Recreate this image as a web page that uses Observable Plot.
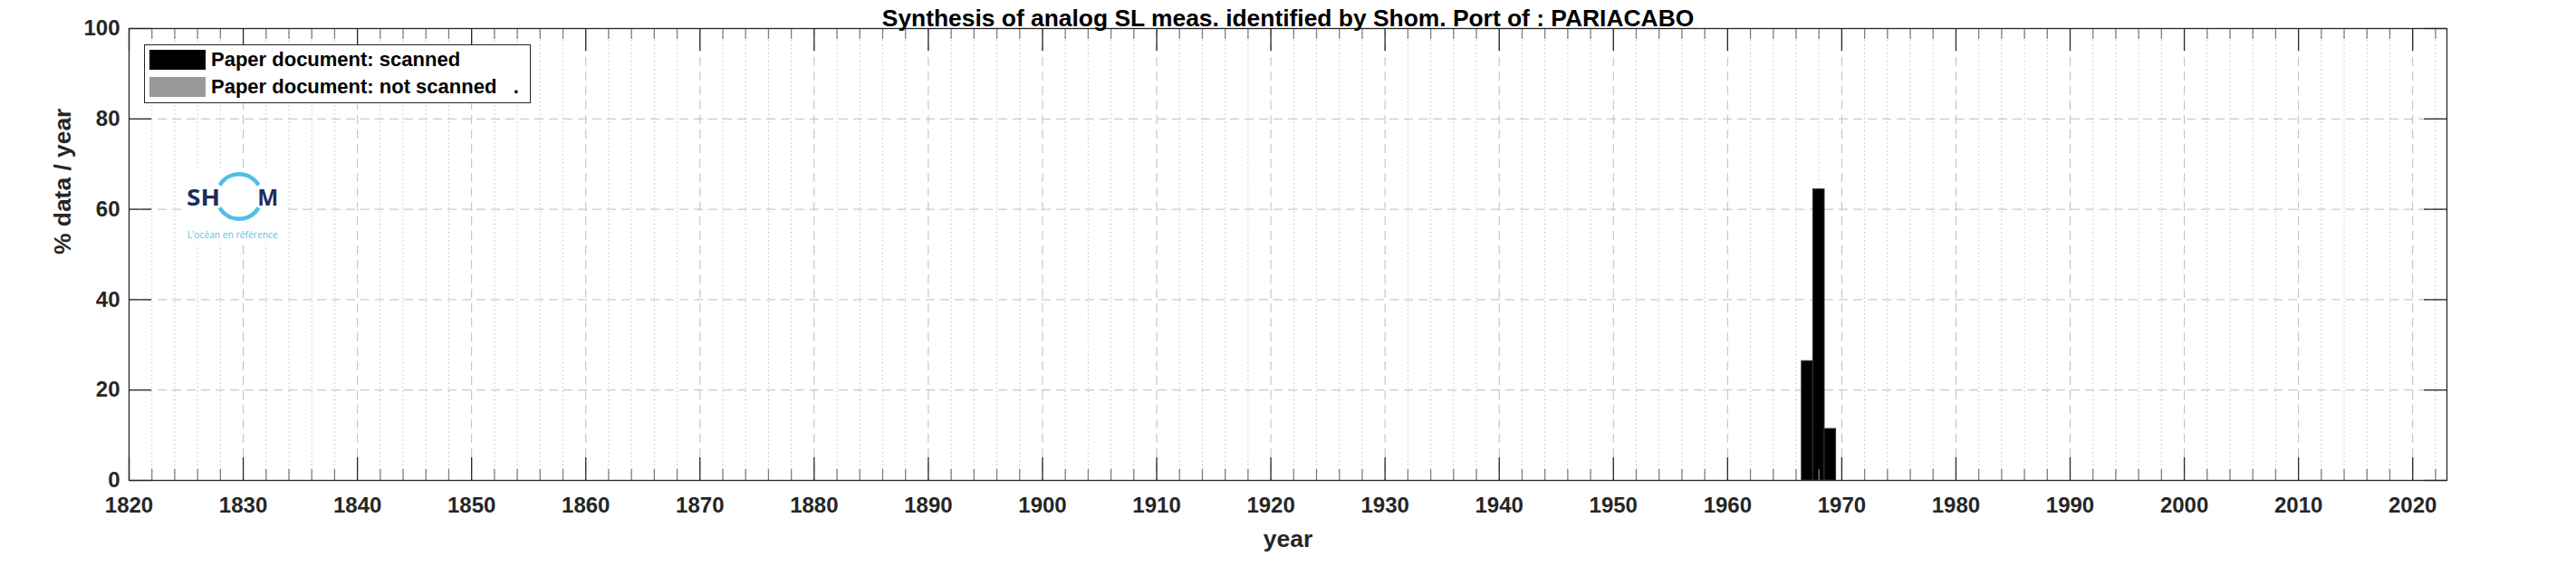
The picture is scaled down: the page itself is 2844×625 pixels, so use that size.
<!DOCTYPE html>
<html>
<head>
<meta charset="utf-8">
<script src="https://cdn.jsdelivr.net/npm/d3@7"></script>
<script src="https://cdn.jsdelivr.net/npm/@observablehq/plot@0.6"></script>
<style>
  html, body { margin: 0; padding: 0; background: #fff; }
  #wrap { position: relative; width: 2844px; height: 625px; overflow: hidden; }
  #legend { position: absolute; left: 159px; top: 49px; width: 427px; height: 65px;
            border: 1.5px solid #262626; background: #fff; box-sizing: border-box;
            font-family: 'Liberation Sans', Arial, Helvetica, sans-serif; font-weight: bold; font-size: 22px; color: #000; }
  .lrow { position: absolute; left: 5px; height: 22px; display: flex; align-items: center; }
  .lsw { width: 62px; height: 22px; margin-right: 6px; }
  .ltx { white-space: pre; line-height: 22px; }
  #logo { position: absolute; left: 200px; top: 188px; }
</style>
</head>
<body>
<div id="wrap"></div>
<script>
// ---- data ----
const title = "Synthesis of analog SL meas. identified by Shom. Port of : PARIACABO";
const years = [1967, 1968, 1969];
const scanned = [26.4, 64.4, 11.4];
const notScanned = [0, 0, 0];
const xTicks = [1820, 1830, 1840, 1850, 1860, 1870, 1880, 1890, 1900, 1910, 1920, 1930, 1940, 1950, 1960, 1970, 1980, 1990, 2000, 2010, 2020];
const yTicks = [0, 20, 40, 60, 80, 100];
const legendLabels = ["Paper document: scanned", "Paper document: not scanned   ."];
const legendColors = ["#000000", "#999999"];
const xLabel = "year";
const yLabel = "% data / year";

// ---- layout ----
const W = 2844, H = 625, mL = 142, mR = 143, mT = 31, mB = 95;
const pW = W - mL - mR, pH = H - mT - mB;
const font = "'Liberation Sans', Arial, Helvetica, sans-serif";
const axisColor = "#262626";
const minorX = d3.range(1822, 2023, 2).filter(y => y % 10 !== 0);
const rows = years.map((y, i) => ({year: y, scanned: scanned[i], notScanned: notScanned[i]}));

const chart = Plot.plot({
  width: W, height: H,
  marginLeft: mL, marginRight: mR, marginTop: mT, marginBottom: mB,
  style: {fontFamily: font, background: "#fff", overflow: "visible"},
  x: {domain: [1820, 2023]},
  y: {domain: [0, 100]},
  marks: [
    Plot.gridX(minorX, {stroke: "#c4c4c4", strokeOpacity: 1, strokeDasharray: "1.5,3"}),
    Plot.gridX(xTicks, {stroke: "#bdbdbd", strokeOpacity: 1, strokeDasharray: "10,6"}),
    Plot.gridY(yTicks.filter(v => v > 0 && v < 100), {stroke: "#bdbdbd", strokeOpacity: 1, strokeDasharray: "10,6"}),
    Plot.rectY(rows, {x1: d => d.year - 0.5, x2: d => d.year + 0.5, y: "notScanned", fill: legendColors[1]}),
    Plot.rectY(rows, {x1: d => d.year - 0.5, x2: d => d.year + 0.5, y: "scanned", fill: legendColors[0], stroke: "#333", strokeWidth: 1}),
    // inward ticks: bottom/top minor and major
    Plot.tickX(minorX, {x: d => d, insetTop: pH - 12, stroke: "#7f7f7f", strokeWidth: 1.3}),
    Plot.tickX(minorX, {x: d => d, insetBottom: pH - 12, stroke: "#7f7f7f", strokeWidth: 1.3}),
    Plot.tickX(xTicks, {x: d => d, insetTop: pH - 25, stroke: axisColor, strokeWidth: 1.3}),
    Plot.tickX(xTicks, {x: d => d, insetBottom: pH - 25, stroke: axisColor, strokeWidth: 1.3}),
    Plot.tickY(yTicks, {y: d => d, insetRight: pW - 25, stroke: axisColor, strokeWidth: 1.3}),
    Plot.tickY(yTicks, {y: d => d, insetLeft: pW - 25, stroke: axisColor, strokeWidth: 1.3}),
    Plot.frame({stroke: axisColor, strokeWidth: 1.3}),
    Plot.axisX(xTicks, {tickSize: 0, tickPadding: 18, fontSize: 24, fontWeight: "bold", fill: axisColor, label: null, tickFormat: d => String(d)}),
    Plot.axisY(yTicks, {tickSize: 0, tickPadding: 10, fontSize: 24, fontWeight: "bold", fill: axisColor, label: null}),
    Plot.text([title], {frameAnchor: "top", dy: -2.5, lineAnchor: "bottom", fontSize: 26.4, fontWeight: "bold", fill: "#000"}),
    Plot.text([xLabel], {frameAnchor: "bottom", dy: 65, lineAnchor: "middle", fontSize: 26.4, fontWeight: "bold", fill: axisColor}),
    Plot.text([yLabel], {frameAnchor: "left", dx: -73, rotate: -90, lineAnchor: "middle", fontSize: 26.4, fontWeight: "bold", fill: axisColor})
  ]
});

const wrap = document.getElementById("wrap");
wrap.appendChild(chart);

// ---- logo (white patch + SHOM mark) ----
const ns = "http://www.w3.org/2000/svg";
const logo = document.createElementNS(ns, "svg");
logo.setAttribute("id", "logo");
logo.setAttribute("width", 112);
logo.setAttribute("height", 82);
logo.innerHTML = `
  <rect x="0" y="0" width="112" height="82" fill="#fff"/>
  <path d="M 42.5 16.5 A 25 25 0 0 1 85.5 16.5" fill="none" stroke="#4fbfe8" stroke-width="4.5"/>
  <path d="M 85.5 41.5 A 25 25 0 0 1 42.5 41.5" fill="none" stroke="#4fbfe8" stroke-width="4.5"/>
  <text x="6" y="38.7" font-family="'Open Sans', Lato, sans-serif" font-weight="bold" font-size="25" fill="#1c2d5a" textLength="37" lengthAdjust="spacingAndGlyphs">SH</text>
  <text x="84.3" y="38.7" font-family="'Open Sans', Lato, sans-serif" font-weight="bold" font-size="25" fill="#1c2d5a" textLength="23" lengthAdjust="spacingAndGlyphs">M</text>
  <text x="6.7" y="74.5" font-family="'Open Sans', Lato, sans-serif" font-size="10" fill="#55c1ea" textLength="100" lengthAdjust="spacingAndGlyphs">L'océan en référence</text>
`;
wrap.appendChild(logo);

// ---- legend ----
const legend = document.createElement("div");
legend.id = "legend";
legendLabels.forEach((lab, i) => {
  const row = document.createElement("div");
  row.className = "lrow";
  row.style.top = (i === 0 ? 5 : 35) + "px";
  const sw = document.createElement("div");
  sw.className = "lsw";
  sw.style.background = legendColors[i];
  const tx = document.createElement("span");
  tx.className = "ltx";
  tx.textContent = lab;
  row.appendChild(sw);
  row.appendChild(tx);
  legend.appendChild(row);
});
wrap.appendChild(legend);
</script>
</body>
</html>
